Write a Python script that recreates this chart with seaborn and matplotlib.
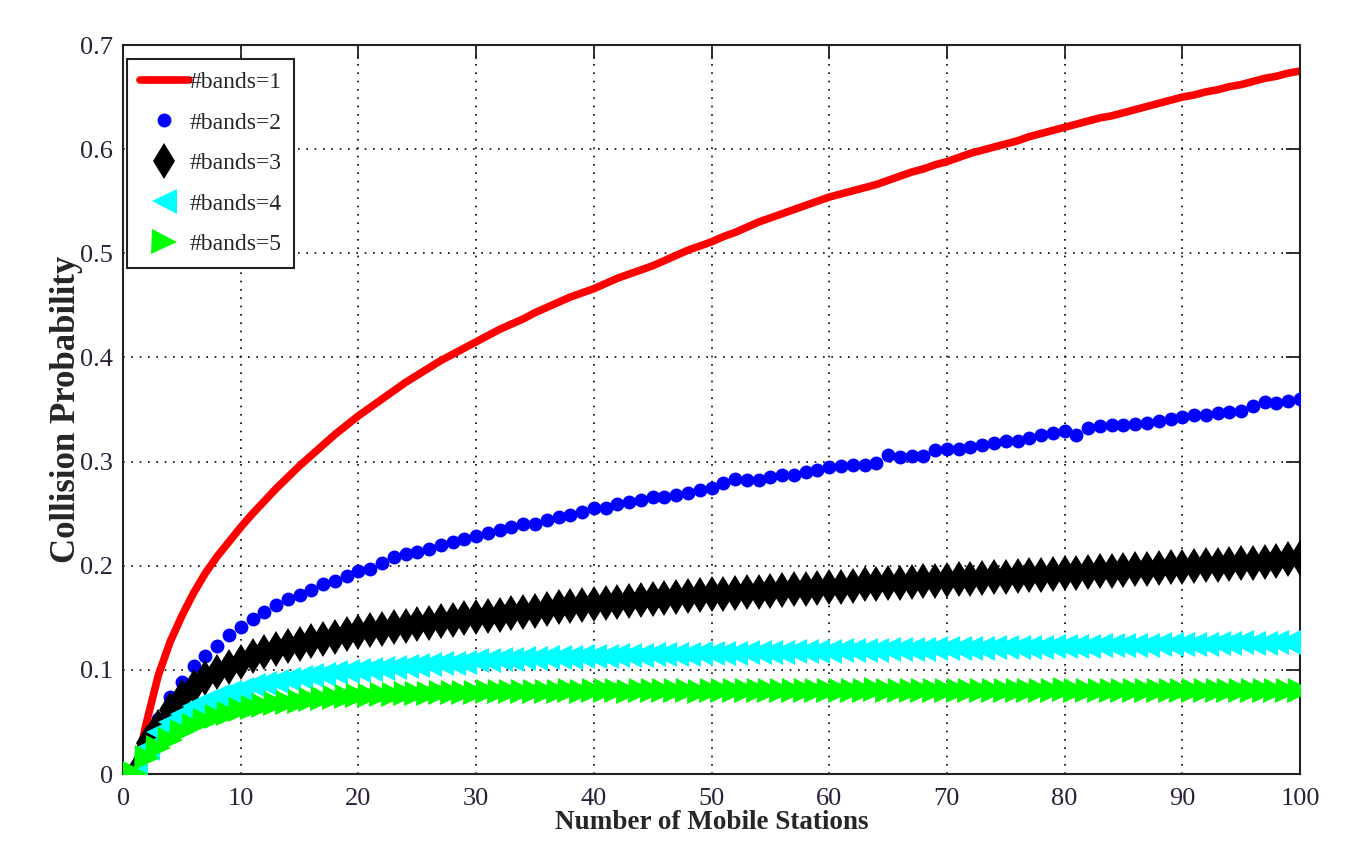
import numpy as np
import pandas as pd
import matplotlib
matplotlib.use("Agg")
import matplotlib.pyplot as plt
import seaborn as sns

# number of mobile stations
stations = list(range(1, 101))

bands1 = [
    0.000, 0.050, 0.095, 0.127, 0.152, 0.174, 0.193, 0.209, 0.223, 0.237,
    0.250, 0.262, 0.274, 0.285, 0.296, 0.306, 0.316, 0.326, 0.335, 0.344,
    0.352, 0.360, 0.368, 0.376, 0.383, 0.390, 0.397, 0.403, 0.409, 0.415,
    0.421, 0.427, 0.432, 0.437, 0.443, 0.448, 0.453, 0.458, 0.462, 0.466,
    0.471, 0.476, 0.480, 0.484, 0.488, 0.493, 0.498, 0.503, 0.507, 0.511,
    0.516, 0.520, 0.525, 0.530, 0.534, 0.538, 0.542, 0.546, 0.550, 0.554,
    0.557, 0.560, 0.563, 0.566, 0.570, 0.574, 0.578, 0.581, 0.585, 0.588,
    0.592, 0.596, 0.599, 0.602, 0.605, 0.608, 0.612, 0.615, 0.618, 0.621,
    0.624, 0.627, 0.630, 0.632, 0.635, 0.638, 0.641, 0.644, 0.647, 0.650,
    0.652, 0.655, 0.657, 0.660, 0.662, 0.665, 0.668, 0.670, 0.673, 0.675,
]

bands2 = [
    0.000, 0.032, 0.053, 0.074, 0.088, 0.104, 0.113, 0.123, 0.133, 0.141,
    0.149, 0.156, 0.162, 0.168, 0.172, 0.177, 0.182, 0.185, 0.190, 0.195,
    0.197, 0.203, 0.208, 0.211, 0.213, 0.216, 0.220, 0.223, 0.226, 0.229,
    0.231, 0.234, 0.237, 0.240, 0.240, 0.244, 0.247, 0.249, 0.252, 0.255,
    0.255, 0.259, 0.261, 0.263, 0.266, 0.266, 0.268, 0.270, 0.273, 0.275,
    0.279, 0.283, 0.282, 0.282, 0.285, 0.287, 0.287, 0.290, 0.292, 0.295,
    0.296, 0.297, 0.297, 0.299, 0.306, 0.304, 0.305, 0.305, 0.311, 0.312,
    0.312, 0.314, 0.316, 0.318, 0.320, 0.320, 0.323, 0.326, 0.327, 0.329,
    0.326, 0.332, 0.334, 0.335, 0.335, 0.336, 0.337, 0.339, 0.341, 0.343,
    0.345, 0.345, 0.347, 0.348, 0.349, 0.353, 0.357, 0.356, 0.358, 0.360,
]

bands3 = [
    0.000, 0.030, 0.045, 0.061, 0.074, 0.084, 0.092, 0.098, 0.103, 0.108,
    0.113, 0.117, 0.120, 0.123, 0.125, 0.128, 0.130, 0.132, 0.134, 0.136,
    0.138, 0.139, 0.141, 0.142, 0.144, 0.145, 0.147, 0.148, 0.150, 0.151,
    0.152, 0.153, 0.155, 0.156, 0.157, 0.158, 0.160, 0.161, 0.162, 0.163,
    0.164, 0.165, 0.166, 0.167, 0.168, 0.169, 0.170, 0.171, 0.172, 0.173,
    0.173, 0.174, 0.175, 0.175, 0.176, 0.177, 0.178, 0.178, 0.179, 0.180,
    0.180, 0.181, 0.182, 0.182, 0.183, 0.183, 0.184, 0.185, 0.185, 0.186,
    0.187, 0.187, 0.188, 0.189, 0.189, 0.190, 0.191, 0.191, 0.192, 0.193,
    0.193, 0.194, 0.195, 0.195, 0.196, 0.197, 0.197, 0.198, 0.199, 0.199,
    0.200, 0.201, 0.201, 0.202, 0.203, 0.203, 0.204, 0.205, 0.206, 0.207,
]

bands4 = [
    0.000, 0.025, 0.040, 0.050, 0.058, 0.065, 0.070, 0.075, 0.079, 0.082,
    0.085, 0.087, 0.089, 0.091, 0.093, 0.095, 0.096, 0.098, 0.099, 0.100,
    0.101, 0.102, 0.103, 0.104, 0.105, 0.106, 0.107, 0.107, 0.108, 0.109,
    0.109, 0.110, 0.110, 0.111, 0.111, 0.112, 0.112, 0.112, 0.113, 0.113,
    0.113, 0.114, 0.114, 0.114, 0.115, 0.115, 0.115, 0.115, 0.116, 0.116,
    0.116, 0.116, 0.117, 0.117, 0.117, 0.117, 0.118, 0.118, 0.118, 0.118,
    0.119, 0.119, 0.119, 0.119, 0.120, 0.120, 0.120, 0.120, 0.121, 0.121,
    0.121, 0.121, 0.121, 0.122, 0.122, 0.122, 0.122, 0.122, 0.123, 0.123,
    0.123, 0.123, 0.124, 0.124, 0.124, 0.124, 0.124, 0.125, 0.125, 0.125,
    0.125, 0.125, 0.126, 0.126, 0.127, 0.126, 0.126, 0.127, 0.127, 0.127,
]

bands5 = [
    0.000, 0.015, 0.025, 0.033, 0.040, 0.046, 0.051, 0.055, 0.058, 0.061,
    0.063, 0.065, 0.067, 0.068, 0.069, 0.071, 0.072, 0.073, 0.074, 0.075,
    0.075, 0.076, 0.076, 0.077, 0.077, 0.077, 0.078, 0.078, 0.078, 0.078,
    0.079, 0.079, 0.079, 0.079, 0.079, 0.079, 0.079, 0.080, 0.079, 0.080,
    0.080, 0.080, 0.079, 0.080, 0.080, 0.080, 0.080, 0.080, 0.079, 0.080,
    0.080, 0.080, 0.080, 0.080, 0.080, 0.080, 0.080, 0.080, 0.080, 0.080,
    0.080, 0.080, 0.080, 0.081, 0.080, 0.080, 0.080, 0.080, 0.080, 0.080,
    0.080, 0.080, 0.080, 0.080, 0.080, 0.080, 0.080, 0.080, 0.080, 0.081,
    0.080, 0.080, 0.080, 0.080, 0.080, 0.080, 0.080, 0.080, 0.080, 0.080,
    0.080, 0.080, 0.080, 0.080, 0.080, 0.080, 0.080, 0.080, 0.080, 0.080,
]

labels = ["#bands=1", "#bands=2", "#bands=3", "#bands=4", "#bands=5"]

sns.set_style("white")
plt.rcParams["font.family"] = ["Liberation Serif", "DejaVu Serif"]

fig = plt.figure(figsize=(13.48, 8.46), dpi=100)
ax = fig.add_axes([0.0913, 0.0851, 0.8731, 0.8617])

# red line
sns.lineplot(x=stations, y=bands1, ax=ax, color="#ff0000", linewidth=5.5,
             label=labels[0], zorder=2)
# marker series
sns.lineplot(x=stations, y=bands2, ax=ax, color="#0000ff", linestyle="",
             marker="o", markersize=10, markeredgewidth=0, label=labels[1], zorder=3)
sns.lineplot(x=stations, y=bands3, ax=ax, color="black", linestyle="",
             marker="d", markersize=18, markeredgewidth=0, label=labels[2], zorder=4)
sns.lineplot(x=stations, y=bands4, ax=ax, color="#00ffff", linestyle="",
             marker="<", markersize=18, markeredgewidth=0, label=labels[3], zorder=5)
sns.lineplot(x=stations, y=bands5, ax=ax, color="#00ff00", linestyle="",
             marker=">", markersize=18, markeredgewidth=0, label=labels[4], zorder=6)

ax.set_xlim(0, 100)
ax.set_ylim(0, 0.7)
ax.set_xticks(range(0, 101, 10))
ax.set_yticks([0, 0.1, 0.2, 0.3, 0.4, 0.5, 0.6, 0.7])
ax.set_yticklabels(["0", "0.1", "0.2", "0.3", "0.4", "0.5", "0.6", "0.7"])

ax.grid(True, linestyle=(0, (1, 4)), color="black", linewidth=1.2)
ax.set_axisbelow(True)
for s in ax.spines.values():
    s.set_visible(True)
    s.set_color("#222222")
    s.set_linewidth(1.5)

ax.tick_params(axis="both", which="both", direction="in", length=10, width=1.3,
               top=True, right=True, labelsize=19, colors="#222222",
               labelcolor="#2b1f3a")
ax.tick_params(axis="x", pad=10)
ax.tick_params(axis="y", pad=7)

ax.set_xlabel("Number of Mobile Stations", fontsize=19.5, fontweight="bold", labelpad=0)
ax.set_ylabel("Collision Probability", fontsize=25, fontweight="bold", labelpad=-2)

leg = ax.legend(loc="upper left", bbox_to_anchor=(0.0, 0.986), fontsize=17,
                frameon=True, fancybox=False, framealpha=1, edgecolor="#222222",
                handlelength=2.1, handletextpad=0.0, labelspacing=0.8,
                borderpad=0.55, borderaxespad=0.15)
leg.get_frame().set_linewidth(1.5)

plt.savefig("out.png", dpi=100)
plt.close()
